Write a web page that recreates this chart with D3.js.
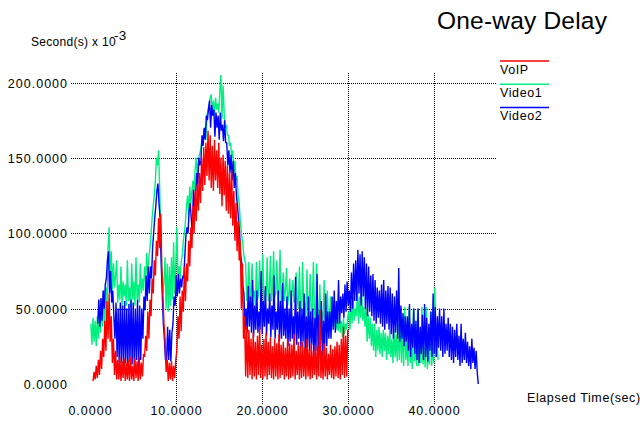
<!DOCTYPE html>
<html>
<head>
<meta charset="utf-8">
<script src="https://cdn.jsdelivr.net/npm/d3@7"></script>
<style>
  body { margin: 0; background: #fff; }
  svg text { font-family: "Liberation Sans", Arial, sans-serif; fill: #000; }
</style>
</head>
<body>
<div id="chart"></div>
<script>
const step = 0.125
const voipStart = 0.35, video1Start = 0.1, video2Start = 0.9

// one-way delay, ms -- one row per second
const voip = [
    2, 8, 3, 12, 4, 16, 6, 22,
    10, 30, 18, 42, 22, 55, 30, 60,
    28, 45, 14, 30, 6, 22, 3, 16,
    3, 18, 2, 15, 4, 17, 2, 14,
    3, 16, 2, 18, 3, 12, 2, 17,
    4, 15, 2, 18, 3, 14, 5, 20,
    18, 32, 22, 48, 30, 56, 45, 70,
    60, 82, 72, 95, 85, 110, 90, 113,
    78, 60, 40, 30, 8, 16, 2, 14,
    3, 15, 2, 12, 4, 16, 22, 45,
    30, 58, 35, 62, 48, 78, 55, 80,
    68, 95, 78, 104, 90, 118, 100, 128,
    108, 133, 115, 140, 120, 150, 128, 157,
    132, 160, 138, 168, 135, 165, 130, 158,
    128, 162, 135, 155, 130, 160, 126, 150,
    118, 152, 125, 148, 115, 145, 113, 140,
    110, 142, 105, 128, 95, 120, 88, 108,
    82, 95, 50, 80, 30, 45, 5, 38,
    4, 36, 6, 30, 3, 34, 5, 28,
    3, 32, 6, 38, 4, 26, 3, 30,
    5, 34, 3, 28, 6, 31, 4, 25,
    3, 30, 5, 27, 3, 33, 4, 26,
    6, 28, 3, 24, 5, 30, 3, 27,
    4, 26, 5, 33, 3, 22, 6, 28,
    3, 25, 4, 28, 5, 24, 3, 30,
    5, 23, 3, 27, 4, 22, 6, 26,
    3, 25, 5, 49, 4, 22, 3, 27,
    5, 24, 3, 20, 6, 26, 4, 23,
    3, 25, 5, 28, 4, 26, 3, 30,
    6, 38, 4, 32, 5, 36
]
const video1 = [
    40, 26, 44, 28, 42, 25, 45, 30,
    48, 34, 56, 38, 62, 40, 64, 48,
    90, 104, 70, 88, 62, 80, 64, 72,
    82, 54, 66, 56, 78, 52, 68, 58,
    66, 52, 82, 55, 64, 51, 80, 56,
    68, 52, 84, 56, 66, 54, 80, 60,
    70, 62, 78, 68, 87, 72, 84, 90,
    100, 110, 118, 125, 135, 150, 145, 155,
    130, 100, 75, 60, 68, 84, 50, 80,
    48, 78, 52, 84, 56, 94, 60, 80,
    104, 72, 78, 70, 81, 85, 95, 100,
    108, 118, 125, 112, 131, 120, 128, 135,
    128, 142, 150, 138, 148, 152, 155, 160,
    158, 168, 170, 162, 178, 182, 185, 190,
    192, 180, 188, 178, 190, 182, 186, 180,
    195, 205, 176, 198, 180, 170, 172, 165,
    165, 158, 160, 150, 155, 140, 148, 135,
    138, 125, 120, 108, 100, 95, 88, 82,
    80, 55, 60, 81, 56, 62, 80, 58,
    62, 52, 81, 56, 60, 82, 55, 62,
    86, 54, 62, 58, 84, 55, 60, 85,
    55, 62, 88, 58, 60, 82, 56, 61,
    89, 54, 60, 74, 55, 62, 77, 52,
    58, 70, 52, 60, 69, 54, 58, 74,
    56, 50, 78, 52, 48, 81, 50, 54,
    45, 76, 50, 48, 73, 46, 50, 81,
    48, 42, 80, 46, 44, 66, 42, 48,
    40, 69, 44, 42, 62, 40, 44, 58,
    38, 46, 55, 40, 36, 42, 35, 44,
    34, 42, 31, 44, 33, 40, 36, 45,
    48, 36, 54, 40, 58, 42, 50, 45,
    62, 40, 58, 44, 60, 42, 51, 38,
    51, 28, 46, 30, 44, 25, 40, 22,
    40, 18, 36, 22, 38, 20, 34, 18,
    36, 22, 34, 16, 32, 20, 36, 18,
    30, 14, 36, 18, 33, 15, 40, 16,
    45, 14, 40, 12, 51, 16, 28, 12,
    51, 14, 24, 10, 50, 15, 26, 12,
    50, 12, 25, 14, 51, 13, 24, 11,
    51, 10, 22, 13, 48, 12, 25, 14,
    64, 18, 30, 16
]
const video2 = [
    40, 56, 38, 57, 42, 62, 50, 66,
    70, 82, 88, 60, 75, 54, 62, 45,
    30, 54, 18, 50, 12, 54, 14, 52,
    11, 55, 14, 50, 12, 53, 15, 56,
    13, 54, 12, 50, 16, 56, 11, 52,
    16, 50, 30, 58, 49, 72, 55, 78,
    60, 78, 70, 90, 100, 110, 118, 128,
    133, 120, 110, 80, 60, 40, 30, 16,
    14, 38, 16, 36, 15, 34, 40, 58,
    52, 72, 58, 73, 60, 70, 64, 72,
    70, 85, 98, 104, 100, 115, 120, 110,
    100, 129, 118, 125, 140, 130, 150, 145,
    148, 165, 158, 170, 162, 178, 175, 182,
    188, 170, 185, 178, 182, 164, 180, 170,
    178, 162, 180, 168, 172, 161, 175, 160,
    160, 145, 155, 140, 152, 135, 148, 130,
    140, 125, 118, 109, 100, 85, 80, 65,
    60, 36, 50, 34, 65, 38, 58, 34,
    69, 31, 52, 36, 62, 34, 48, 36,
    75, 33, 55, 38, 65, 32, 50, 40,
    60, 31, 52, 36, 72, 30, 48, 36,
    62, 28, 55, 30, 67, 32, 50, 30,
    58, 25, 50, 28, 62, 30, 45, 28,
    71, 26, 48, 30, 55, 24, 50, 28,
    60, 20, 45, 24, 58, 22, 48, 26,
    50, 16, 44, 22, 73, 20, 46, 24,
    55, 18, 42, 22, 60, 25, 48, 30,
    48, 30, 58, 36, 62, 34, 55, 40,
    69, 40, 58, 47, 60, 44, 66, 48,
    68, 52, 62, 48, 74, 50, 80, 55,
    82, 55, 89, 60, 86, 52, 88, 58,
    84, 50, 80, 45, 78, 48, 72, 45,
    73, 42, 69, 40, 64, 44, 62, 40,
    66, 38, 69, 36, 62, 40, 65, 36,
    64, 33, 60, 30, 58, 34, 62, 30,
    77, 28, 52, 30, 47, 25, 45, 28,
    45, 22, 53, 18, 40, 24, 50, 20,
    42, 16, 50, 14, 38, 20, 46, 16,
    53, 18, 44, 15, 40, 22, 48, 18,
    60, 20, 51, 18, 45, 24, 50, 22,
    45, 18, 50, 20, 40, 22, 44, 18,
    40, 16, 38, 14, 36, 18, 40, 16,
    32, 12, 40, 14, 30, 16, 34, 14,
    28, 12, 25, 10, 30, 14, 24, 10,
    22, 8, 0
]

const xTicks = [0, 10, 20, 30, 40]
const yTicks = [0, 50, 100, 150, 200]
const seriesNames = ["VoIP", "Video1", "Video2"]
const seriesColors = ["#ff0000", "#00f080", "#0000ff"]

const W = 640, H = 425

const svg = d3.select("#chart").append("svg")
    .attr("width", W)
    .attr("height", H)

const x = d3.scaleLinear().domain([0, 40]).range([90, 434])
const y = d3.scaleLinear().domain([0, 200]).range([384, 82.5])
const fmt = d3.format(".4f")

// title + axis captions
svg.append("text")
    .attr("x", 437).attr("y", 29)
    .attr("font-size", 24.5)
    .attr("letter-spacing", 0.2)
    .text("One-way Delay")

const unit = svg.append("text")
    .attr("x", 31).attr("y", 46)
    .attr("font-size", 12)
    .attr("letter-spacing", 0.3)
    .text("Second(s) x 10")
unit.append("tspan")
    .attr("dy", -6).attr("dx", -2)
    .attr("font-size", 13.5)
    .text("-3")

svg.append("text")
    .attr("x", 527).attr("y", 402)
    .attr("font-size", 12.5)
    .attr("letter-spacing", 0.6)
    .text("Elapsed Time(sec)")

// y axis: labels + dotted horizontal grid
const yAxis = svg.append("g")
    .attr("transform", "translate(71,0)")
    .call(d3.axisLeft(y).tickValues(yTicks).tickFormat(fmt)
        .tickSize(-425).tickPadding(3))
yAxis.select(".domain").remove()
yAxis.selectAll("line")
    .attr("stroke", "#000")
    .attr("stroke-dasharray", "1,1")
    .attr("shape-rendering", "crispEdges")
    .attr("opacity", d => d === 0 ? 0 : 1)
yAxis.selectAll("text")
    .attr("font-size", 12.5)
    .attr("letter-spacing", 1)
    .attr("dy", "0.36em")

// x axis: labels + dotted vertical grid
const xAxis = svg.append("g")
    .attr("transform", "translate(0,73)")
    .call(d3.axisBottom(x).tickValues(xTicks).tickFormat(fmt)
        .tickSize(332).tickPadding(1))
xAxis.select(".domain").remove()
xAxis.selectAll("line")
    .attr("stroke", "#000")
    .attr("stroke-dasharray", "1,1")
    .attr("shape-rendering", "crispEdges")
    .attr("opacity", d => d === 0 ? 0 : 1)
xAxis.selectAll("text")
    .attr("font-size", 12.5)
    .attr("letter-spacing", 1)

// series, drawn back to front: Video1, Video2, VoIP
const series = [
    { name: "Video1", start: video1Start, values: video1, color: seriesColors[1] },
    { name: "Video2", start: video2Start, values: video2, color: seriesColors[2] },
    { name: "VoIP", start: voipStart, values: voip, color: seriesColors[0] }
]

const line = d3.line()
    .x(d => x(d[0]))
    .y(d => y(d[1]))

series.forEach(s => {
    const pts = s.values.map((v, i) => [s.start + i * step, v])
    svg.append("path")
        .datum(pts)
        .attr("fill", "none")
        .attr("stroke", s.color)
        .attr("stroke-width", 1.4)
        .attr("stroke-linejoin", "bevel")
        .attr("d", line)
})

// legend
const legend = svg.append("g")
    .selectAll("g")
    .data(seriesNames)
    .enter()
    .append("g")
    .attr("transform", (d, i) => `translate(500,${61 + i * 23.3})`)

legend.append("line")
    .attr("x1", 0).attr("x2", 49)
    .attr("stroke", (d, i) => seriesColors[i])
    .attr("stroke-width", 1.5)

legend.append("text")
    .attr("x", 0).attr("y", 12.5)
    .attr("font-size", 12.5)
    .attr("letter-spacing", 0.6)
    .text(d => d)
</script>
</body>
</html>
